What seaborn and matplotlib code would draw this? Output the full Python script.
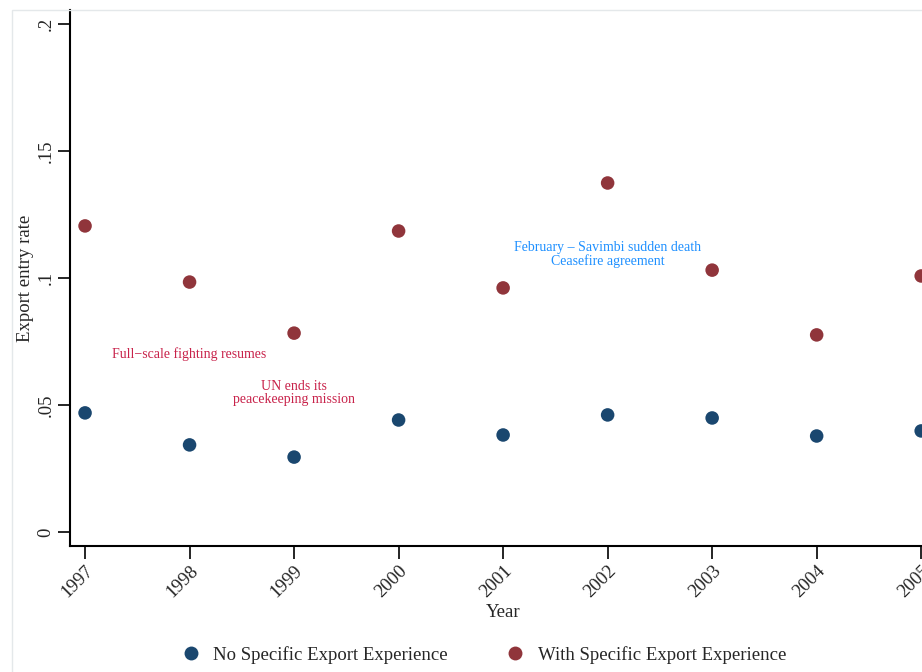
import pandas as pd
import matplotlib.pyplot as plt
import seaborn as sns
from matplotlib.patches import Rectangle

sns.set_style("white")
plt.rcParams['font.family'] = ['Liberation Serif', 'DejaVu Serif']

years = [1997, 1998, 1999, 2000, 2001, 2002, 2003, 2004, 2005]
no_exp = [0.0469, 0.0343, 0.0295, 0.0441, 0.0382, 0.0461, 0.0449, 0.0378, 0.0398]
with_exp = [0.1205, 0.0984, 0.0783, 0.1185, 0.0961, 0.1374, 0.1031, 0.0776, 0.1008]
groups = ['No Specific Export Experience', 'With Specific Export Experience']
yticks = [0, 0.05, 0.1, 0.15, 0.2]
ytick_labels = ['0', '.05', '.1', '.15', '.2']

df = pd.DataFrame({
    'year': years * 2,
    'rate': no_exp + with_exp,
    'group': [groups[0]] * len(years) + [groups[1]] * len(years),
})

fig = plt.figure(figsize=(9.22, 6.72), dpi=100)
# faint outer graph region border like Stata
fig.patches.append(Rectangle((12 / 922, -0.1), 1.2, 1 - 10 / 672 + 0.1, transform=fig.transFigure,
                             fill=False, edgecolor='#e4e8ea', linewidth=1))
ax = fig.add_axes([70 / 922, 1 - 546 / 672, 870 / 922, 536 / 672])

sns.scatterplot(data=df, x='year', y='rate', hue='group',
                palette=['#1a476f', '#90353b'], s=95, linewidth=0, ax=ax, legend=False)

ax.text(1998, 0.070, 'Full\u2212scale fighting resumes', color='#c8224a', fontsize=10,
        ha='center', va='center')
ax.text(1999, 0.0547, 'UN ends its\npeacekeeping mission', color='#c8224a', fontsize=10,
        ha='center', va='center', linespacing=1.0)
ax.text(2002, 0.1094, 'February \u2013 Savimbi sudden death\nCeasefire agreement', color='#1e90ff',
        fontsize=10, ha='center', va='center', linespacing=1.0)

ax.set_xlim(1996.856, 2005.18)
ax.set_ylim(-0.0055, 0.2055)
ax.set_xticks(years)
ax.set_xticklabels([str(y) for y in years], rotation=45, ha='right', rotation_mode='anchor', fontsize=13.5)
ax.set_yticks(yticks)
ax.set_yticklabels(ytick_labels, rotation=90, va='center', fontsize=13.5)
ax.tick_params(axis='both', direction='out', length=9, width=1.2, color='black', bottom=True, left=True)
ax.tick_params(axis='y', pad=2)
ax.tick_params(axis='x', pad=3)
for s in ['top', 'right']:
    ax.spines[s].set_visible(False)
for s in ['left', 'bottom']:
    ax.spines[s].set_color('black')
    ax.spines[s].set_linewidth(1.5)

ax.set_xlabel('Year', fontsize=13.5)
ax.set_ylabel('Export entry rate', fontsize=13.5)
ax.xaxis.set_label_coords(433 / 870, -(604 - 546) / 536)
ax.yaxis.set_label_coords(-(70 - 34) / 870, (546 - 278) / 536)

handles = [plt.Line2D([], [], marker='o', linestyle='', markersize=10, markeredgewidth=0,
                      color=c) for c in ['#1a476f', '#90353b']]
fig.legend(handles, groups, loc='center', bbox_to_anchor=(479 / 922, 1 - 655 / 672), ncol=2,
           frameon=False, fontsize=13.5, handletextpad=0.2, columnspacing=2.6)

fig.savefig('out.png', dpi=100)
